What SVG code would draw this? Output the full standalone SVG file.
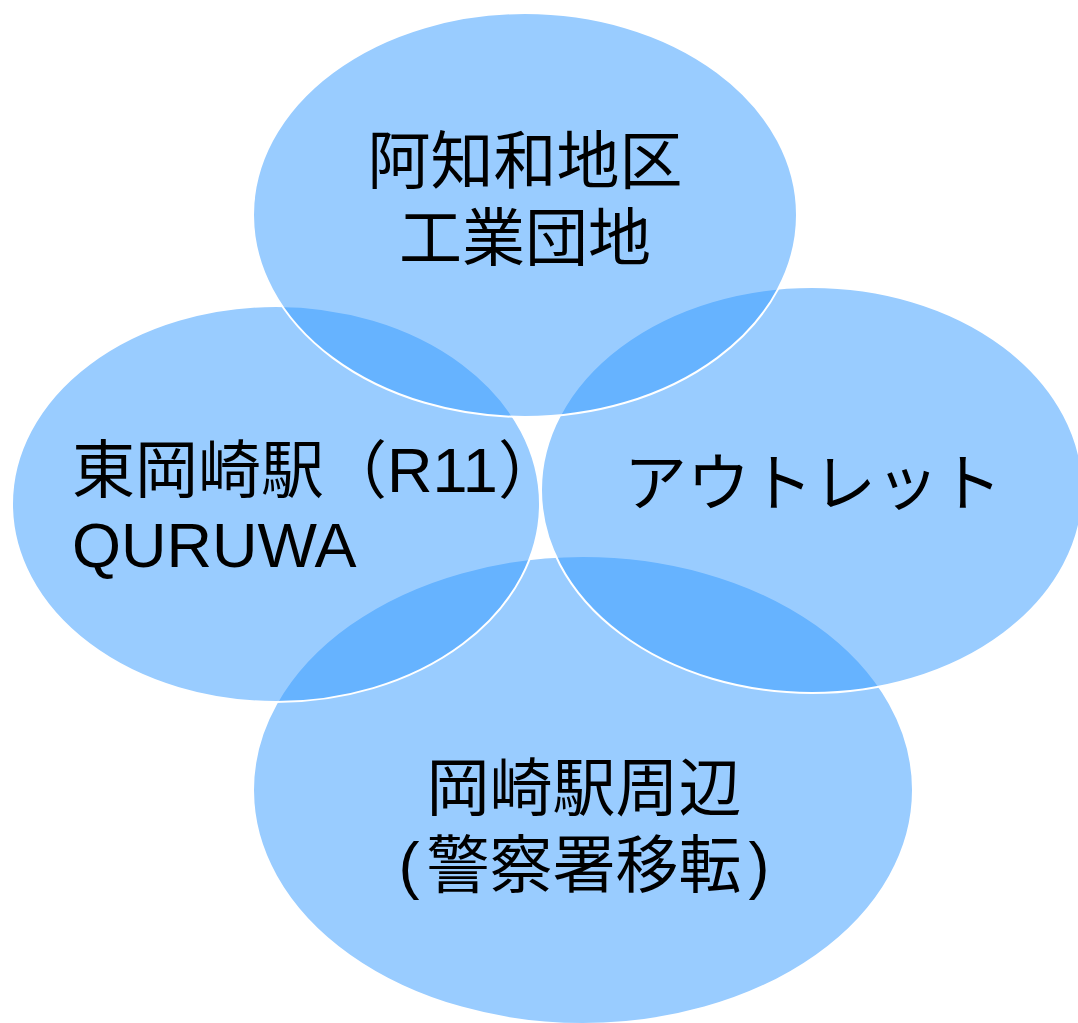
<svg xmlns="http://www.w3.org/2000/svg" width="1078" height="1023" viewBox="0 0 1078 1023">
<style>
.e{fill:#3399FF;fill-opacity:0.5;stroke:#FFFFFF;stroke-width:2}
.t{font-family:"Liberation Sans","Noto Sans CJK JP",sans-serif;font-size:63px;fill:#000000}
</style>
<rect width="1078" height="1023" fill="#FFFFFF"/>
<g id="node-bottom">
<ellipse class="e" cx="583" cy="790" rx="330" ry="234"/>
<text class="t" x="584" y="810" text-anchor="middle">岡崎駅周辺</text>
<text class="t" x="584" y="887" text-anchor="middle">(<tspan dx="7">警察署移転</tspan><tspan dx="7">)</tspan></text>
</g>
<g id="node-left">
<ellipse class="e" cx="276" cy="504" rx="264" ry="198"/>
<text class="t" x="72" y="492">東岡崎駅（R11）</text>
<text class="t" x="72" y="567">QURUWA</text>
</g>
<g id="node-right">
<ellipse class="e" cx="812" cy="490" rx="271" ry="203"/>
<text class="t" x="813" y="505" text-anchor="middle">アウトレット</text>
</g>
<g id="node-top">
<ellipse class="e" cx="525" cy="215" rx="272" ry="202"/>
<text class="t" x="525" y="183" text-anchor="middle">阿知和地区</text>
<text class="t" x="525" y="260" text-anchor="middle">工業団地</text>
</g>
<g id="connectors"></g>
</svg>
